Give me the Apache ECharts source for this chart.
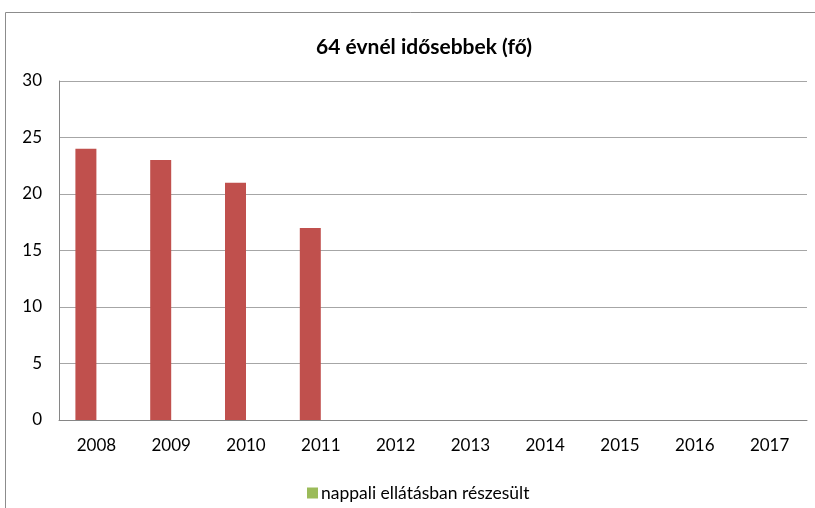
<!DOCTYPE html>
<html>
<head>
<meta charset="utf-8">
<script src="https://cdn.jsdelivr.net/npm/echarts@6/dist/echarts.min.js"></script>
<style>
  html, body { margin: 0; padding: 0; background: #fff; }
  #chart { width: 815px; height: 508px; }
</style>
</head>
<body>
<div id="chart"></div>
<script>
'use strict'

const years = ['2008', '2009', '2010', '2011', '2012', '2013', '2014', '2015', '2016', '2017'];
const olderThan64 = [24, 23, 21, 17, '-', '-', '-', '-', '-', '-'];
const dayCare = ['-', '-', '-', '-', '-', '-', '-', '-', '-', '-'];
const yTicks = {min: 0, max: 30, interval: 5};

const FONT = 'Lato';

const chart = echarts.init(document.getElementById('chart'), null, {renderer: 'canvas'});

chart.setOption({
  animation: false,
  backgroundColor: '#fff',
  textStyle: {fontFamily: FONT},
  graphic: [{
    type: 'rect',
    shape: {x: 5.5, y: 12.5, width: 900, height: 600},
    style: {fill: 'none', stroke: '#8c8c8c', lineWidth: 1}
  }],
  title: {
    text: '64 évnél idősebbek (fő)',
    left: 419,
    textAlign: 'center',
    top: 32,
    textStyle: {fontFamily: FONT, fontSize: 21, fontWeight: 'bold', color: '#000'}
  },
  legend: {
    data: ['nappali ellátásban részesült'],
    left: 302,
    top: 479,
    itemWidth: 11,
    itemHeight: 11,
    itemGap: 4,
    icon: 'rect',
    textStyle: {fontFamily: FONT, fontSize: 17.5, color: '#000', padding: [0, 0, 0, -2]}
  },
  grid: {left: 59, right: 8, top: 81, bottom: 88, containLabel: false},
  xAxis: {
    type: 'category',
    data: years,
    axisLine: {lineStyle: {color: '#868686'}},
    axisTick: {show: false},
    axisLabel: {fontFamily: FONT, fontSize: 17, color: '#000', margin: 17}
  },
  yAxis: {
    type: 'value',
    min: yTicks.min,
    max: yTicks.max,
    interval: yTicks.interval,
    axisLine: {show: true, lineStyle: {color: '#868686'}},
    axisTick: {show: false},
    splitLine: {lineStyle: {color: '#a6a6a6'}},
    axisLabel: {fontFamily: FONT, fontSize: 17, color: '#000', margin: 17}
  },
  series: [
    {
      name: '64 évnél idősebbek',
      type: 'bar',
      data: olderThan64,
      barWidth: 21,
      barGap: '0%',
      itemStyle: {color: '#C0504D'}
    },
    {
      name: 'nappali ellátásban részesült',
      type: 'bar',
      data: dayCare,
      barWidth: 21,
      barGap: '0%',
      itemStyle: {color: '#9BBB59'}
    }
  ]
});
</script>
</body>
</html>
